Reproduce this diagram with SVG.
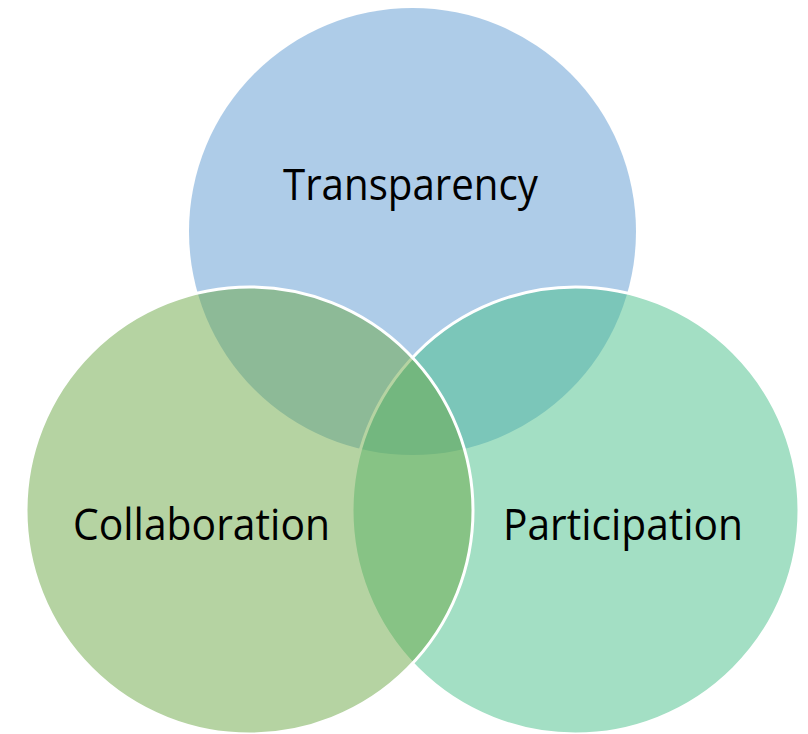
<svg xmlns="http://www.w3.org/2000/svg" width="808" height="734" viewBox="0 0 808 734">
<style>
.c{fill-opacity:0.5}
.s{stroke:#ffffff;stroke-width:3}
.t{font-family:"Open Sans","Noto Sans","Liberation Sans",sans-serif;font-size:43px;fill:#000000;text-anchor:middle}
</style>
<rect width="808" height="734" fill="#ffffff"/>
<g id="transparency">
<circle class="c" cx="412.5" cy="231.5" r="223.5" fill="#5D99D1"/>
</g>
<g id="participation">
<circle class="c s" cx="575.5" cy="510.5" r="223.5" fill="#47BF89"/>
</g>
<g id="collaboration">
<circle class="c s" cx="249.5" cy="510.5" r="223.5" fill="#6BA745"/>
</g>
<g id="connectors"></g>
<g id="labels">
<text class="t" x="410.5" y="200" textLength="255" lengthAdjust="spacingAndGlyphs">Transparency</text>
<text class="t" x="201.5" y="540" textLength="257" lengthAdjust="spacingAndGlyphs">Collaboration</text>
<text class="t" x="623" y="540" textLength="240" lengthAdjust="spacingAndGlyphs">Participation</text>
</g>
</svg>
